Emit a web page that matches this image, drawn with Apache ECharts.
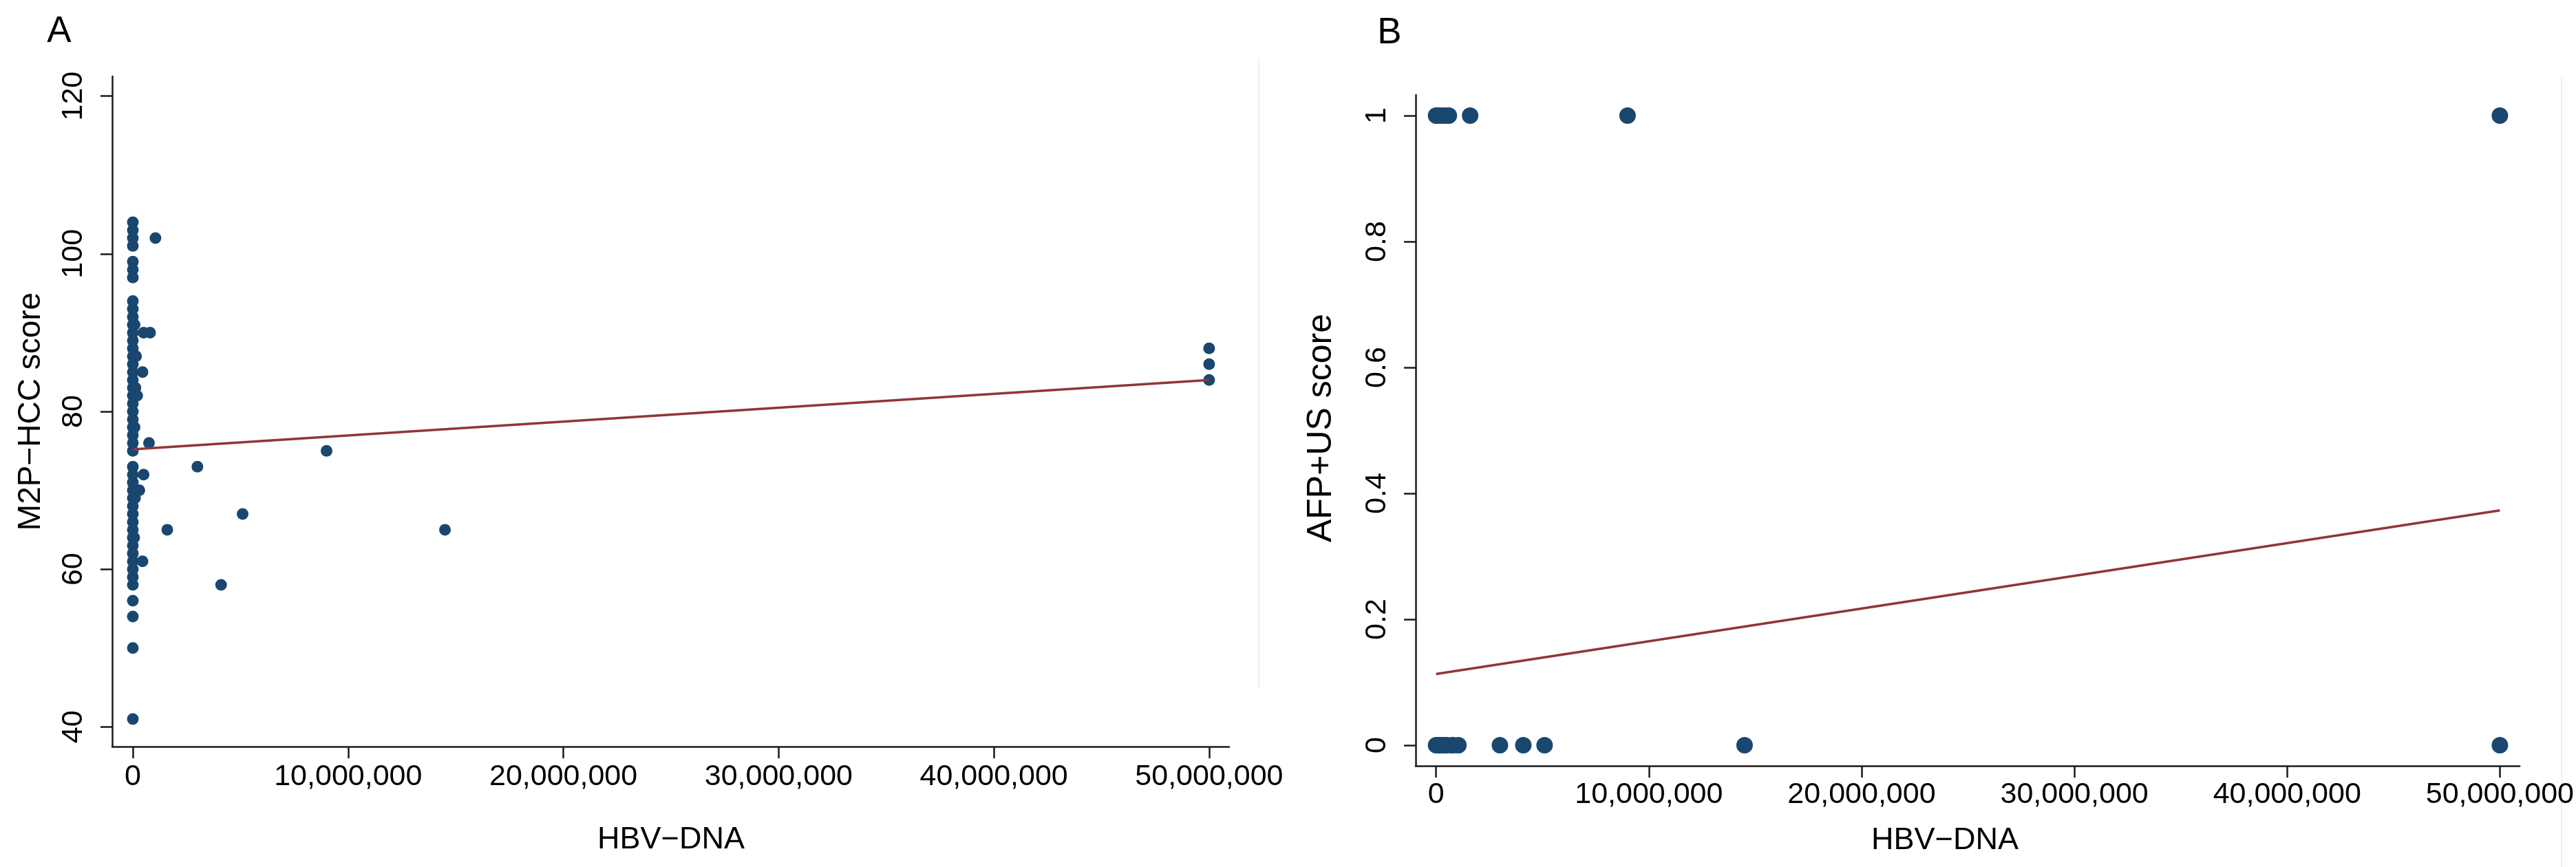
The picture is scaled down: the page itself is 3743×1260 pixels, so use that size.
<!DOCTYPE html>
<html><head><meta charset="utf-8">
<script src="https://cdn.jsdelivr.net/npm/echarts@6/dist/echarts.min.js"></script>
<style>html,body{margin:0;padding:0;background:#fff}#c{width:3743px;height:1260px}</style>
</head><body><div id="c"></div>
<script>
// ---- tick values ----
const xTicks = [0, 10000000, 20000000, 30000000, 40000000, 50000000];
const yTicksA = [40, 60, 80, 100, 120];
const yTicksB = [0, 0.2, 0.4, 0.6, 0.8, 1];

// ---- Panel A: HBV-DNA vs M2P-HCC score ----
const hbvA = [0,0,0,0,0,0,0,0,0,0,0,0,0,0,0,0,0,0,0,0,0,0,0,0,0,0,0,0,0,0,0,0,0,0,0,0,0,0,0,0,0,0,0,0,0,0,0,
  60000,80000,150000,120000,100000,80000,
  200000,300000,450000,450000,500000,500000,750000,800000,1050000,1600000,3000000,4100000,5100000,9000000,14500000,50000000,50000000,50000000];
const m2pA = [41,50,54,56,58,59,60,61,62,63,64,65,66,67,68,69,70,71,72,73,75,76,77,78,79,80,81,82,83,84,85,86,87,88,89,90,91,92,93,94,97,98,99,101,102,103,104,
  64,78,87,83,69,91,
  82,70,85,61,90,72,76,90,102,65,73,58,67,75,65,88,86,84];
const fitAX = [0, 50000000];
const fitAY = [75.2, 84.0];

// ---- Panel B: HBV-DNA vs AFP+US score ----
const hbvB = [0,100000,200000,400000,600000,1600000,9000000,50000000,
  0,100000,200000,300000,450000,500000,750000,800000,1050000,3000000,4100000,5100000,14500000,50000000];
const afpB = [1,1,1,1,1,1,1,1,
  0,0,0,0,0,0,0,0,0,0,0,0,0,0];
const fitBX = [0, 50000000];
const fitBY = [0.113, 0.373];

const FONT = '"Liberation Sans", Arial, sans-serif';
const NAVY = '#1a476f';
const MAROON = '#90353b';
const AX = '#1a1a1a';

function commas(v){ const s = String(Math.round(v)); return s.replace(/\B(?=(\d{3})+(?!\d))/g, ','); }
function zip(a,b){ return a.map((v,i)=>[v,b[i]]); }

function xAxisCfg(gi, margin){
  return {
    type:'value', gridIndex:gi, min:-960000, max:50930000,
    axisLine:{show:true, onZero:false, lineStyle:{color:AX, width:2.5}},
    axisTick:{show:true, length:17, lineStyle:{color:AX, width:2.5}, customValues:xTicks},
    axisLabel:{show:true, customValues:xTicks, formatter:commas, margin:margin,
      fontSize:43, fontFamily:FONT, color:'#000'},
    splitLine:{show:false}
  };
}
function yAxisCfg(gi, min, max, ticks, margin){
  return {
    type:'value', gridIndex:gi, min:min, max:max,
    axisLine:{show:true, onZero:false, lineStyle:{color:AX, width:2.5}},
    axisTick:{show:true, length:17, lineStyle:{color:AX, width:2.5}, customValues:ticks},
    axisLabel:{show:true, customValues:ticks, rotate:90, margin:margin,
      formatter:(v)=>String(v), fontSize:43, fontFamily:FONT, color:'#000'},
    splitLine:{show:false}
  };
}
function txt(text, x, y, size, rot){
  return {type:'text', x:x, y:y, rotation:rot||0, silent:true,
    style:{text:text, font: size+'px '+FONT, fill:'#000',
      align:'center', verticalAlign:'middle', textAlign:'center', textVerticalAlign:'middle'}};
}
function vline(x, y1, y2){
  return {type:'line', silent:true, z:-1, shape:{x1:x, y1:y1, x2:x, y2:y2},
    style:{stroke:'#efefef', lineWidth:2}};
}

const chart = echarts.init(document.getElementById('c'), null, {renderer:'canvas'});
chart.setOption({
  animation:false,
  backgroundColor:'#fff',
  grid:[
    {left:163, top:111, width:1623, height:974},
    {left:2057, top:138, width:1623, height:975}
  ],
  xAxis:[ xAxisCfg(0, 23), xAxisCfg(1, 21) ],
  yAxis:[ yAxisCfg(0, 37.5, 122.5, yTicksA, 34), yAxisCfg(1, -0.0328, 1.0328, yTicksB, 34) ],
  series:[
    {type:'scatter', xAxisIndex:0, yAxisIndex:0, data:zip(hbvA,m2pA), symbol:'circle', symbolSize:17,
      itemStyle:{color:NAVY, opacity:1}, z:2, silent:true},
    {type:'line', xAxisIndex:0, yAxisIndex:0, data:zip(fitAX,fitAY), showSymbol:false, symbol:'none',
      lineStyle:{color:MAROON, width:3.5}, z:3, silent:true},
    {type:'scatter', xAxisIndex:1, yAxisIndex:1, data:zip(hbvB,afpB), symbol:'circle', symbolSize:24,
      itemStyle:{color:NAVY, opacity:1}, z:2, silent:true},
    {type:'line', xAxisIndex:1, yAxisIndex:1, data:zip(fitBX,fitBY), showSymbol:false, symbol:'none',
      lineStyle:{color:MAROON, width:3.5}, z:3, silent:true}
  ],
  graphic:[
    vline(1829, 85, 1000),
    vline(3722, 113, 1260),
    txt('A', 86, 46, 53),
    txt('B', 2019, 48, 53),
    txt('M2P\u2212HCC score', 45, 598, 46, Math.PI/2),
    txt('AFP+US score', 1920, 622, 50, Math.PI/2),
    txt('HBV\u2212DNA', 975, 1221, 45),
    txt('HBV\u2212DNA', 2826, 1222, 45)
  ]
});
</script>
</body></html>
